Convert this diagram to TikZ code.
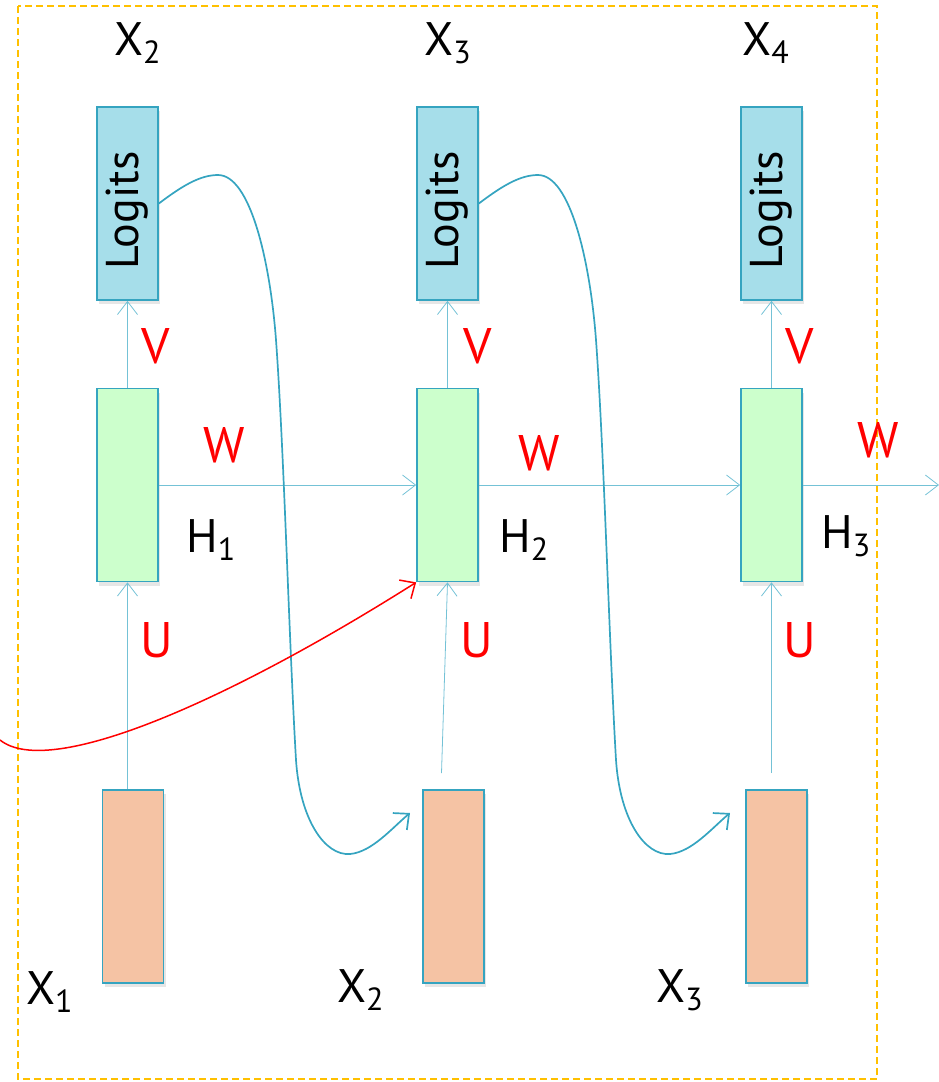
\documentclass[tikz,border=0pt]{standalone}
\usepackage{fontspec}
\setmainfont{PT Sans}
\usetikzlibrary{arrows.meta,shadows}
\definecolor{logitblue}{HTML}{A6DEEA}
\definecolor{hidgreen}{HTML}{CCFFCC}
\definecolor{inpeach}{HTML}{F5C3A4}
\definecolor{edgeteal}{HTML}{35A4C0}
\definecolor{flowblue}{HTML}{74C2D6}
\definecolor{frameamber}{HTML}{FFC000}
\newcommand{\lowdig}[1]{\raisebox{-8pt}{\fontsize{32}{32}\selectfont #1}}

\begin{document}
\begin{tikzpicture}[x=1pt,y=-1pt,
  cell/.style={draw=edgeteal, line width=1.7pt, minimum width=61pt, minimum height=193pt, inner sep=0pt,
    drop shadow={opacity=0.2, shadow xshift=2pt, shadow yshift=-4pt}},
  logit/.style={cell, fill=logitblue, font=\fontsize{46}{46}\selectfont},
  hid/.style={cell, fill=hidgreen},
  inp/.style={cell, fill=inpeach},
  flow/.style={draw=flowblue, line width=0.8pt, -{Straight Barb[length=13pt,width=20pt]}},
  feed/.style={draw=edgeteal, line width=1.7pt, -{Straight Barb[length=12pt,width=22pt]}},
  redarc/.style={draw=red, line width=1.5pt, -{Straight Barb[length=12pt,width=22pt]}},
  wt/.style={text=red, font=\fontsize{50}{50}\selectfont, anchor=base west, inner sep=0pt},
  var/.style={font=\fontsize{47}{47}\selectfont, anchor=base west, inner sep=0pt}]
\useasboundingbox (0,0) rectangle (939,1082);

% frame
\draw[frameamber, line width=1.5pt, dash pattern=on 7pt off 4pt] (18,6) rectangle (877,1079);

% boxes
\node[logit] (l1) at (127.5,203.5) {\rotatebox{90}{Logits\hspace{14pt}}};
\node[logit] (l2) at (447.5,203.5) {\rotatebox{90}{Logits\hspace{14pt}}};
\node[logit] (l3) at (771.5,203.5) {\rotatebox{90}{Logits\hspace{14pt}}};
\node[hid] (h1) at (127.5,485) {};
\node[hid] (h2) at (447.5,485) {};
\node[hid] (h3) at (771.5,485) {};
\node[inp] (x1) at (133,886.5) {};
\node[inp] (x2) at (453.5,886.5) {};
\node[inp] (x3) at (776.5,886.5) {};

\coordinate (wout) at (939,485);
\coordinate (rin) at (0,740);
\coordinate (f1) at (410,813);
\coordinate (f2) at (730,813);

% straight arrows
\draw[flow] (x1.north -| h1.south) -- (h1.south);
\draw[flow] ([xshift=-12pt,yshift=16pt]x2.north) -- (h2.south);
\draw[flow] ([xshift=-5pt,yshift=16pt]x3.north) -- (h3.south);
\draw[flow] (h1.north) -- (l1.south);
\draw[flow] (h2.north) -- (l2.south);
\draw[flow] (h3.north) -- (l3.south);
\draw[flow] (h1.east) -- (h2.west);
\draw[flow] (h2.east) -- (h3.west);
\draw[flow] (h3.east) -- (wout);

% feedback curves
\draw[feed] (l1.east) .. controls (182,186) and (200,175) .. (218,175)
  .. controls (250,175) and (270,260) .. (276,340)
  .. controls (284,450) and (289,640) .. (296,760)
  .. controls (300,820) and (325,856) .. (350,854)
  .. controls (372,852) and (392,828) .. (f1);
\draw[feed] (l2.east) .. controls (502,186) and (520,175) .. (538,175)
  .. controls (570,175) and (590,260) .. (596,340)
  .. controls (604,450) and (609,640) .. (616,760)
  .. controls (620,820) and (645,856) .. (670,854)
  .. controls (692,852) and (712,828) .. (f2);
\draw[redarc] (rin) .. controls (50,780) and (230,700) .. (h2.south west);

% labels
\node[var] (t2) at (114,55) {X\lowdig{2}};
\node[var] (t3) at (424,55) {X\lowdig{3}};
\node[var] (t4) at (742,55) {X\lowdig{4}};
\node[var] (b1) at (26,1004) {X\lowdig{1}};
\node[var] (b2) at (337,1002) {X\lowdig{2}};
\node[var] (b3) at (656,1002) {X\lowdig{3}};
\node[var] (n1) at (186,552) {H\lowdig{1}};
\node[var] (n2) at (499,552) {H\lowdig{2}};
\node[var] (n3) at (821,548) {H\lowdig{3}};
\node[wt] (v1) at (141,363) {V};
\node[wt] (v2) at (463,363) {V};
\node[wt] (v3) at (785,363) {V};
\node[wt] (w1) at (203,462) {W};
\node[wt] (w2) at (518,470) {W};
\node[wt] (w3) at (857,457) {W};
\node[wt] (u1) at (140,657) {U};
\node[wt] (u2) at (460,657) {U};
\node[wt] (u3) at (783,657) {U};
\end{tikzpicture}
\end{document}
